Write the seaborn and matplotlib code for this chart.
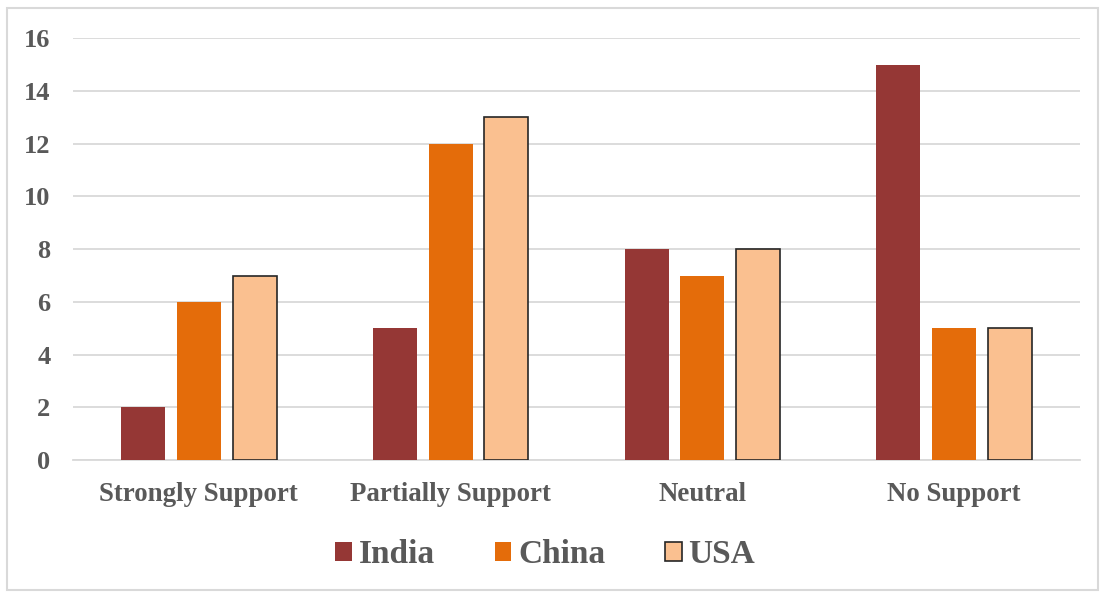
import matplotlib
matplotlib.use("Agg")
import matplotlib.pyplot as plt
import seaborn as sns
import pandas as pd
from matplotlib.patches import Patch, Rectangle

# Survey responses by country
categories = ["Strongly Support", "Partially Support", "Neutral", "No Support"]
countries = ["India", "China", "USA"]
india = [2, 5, 8, 15]
china = [6, 12, 7, 5]
usa = [7, 13, 8, 5]
y_ticks = [0, 2, 4, 6, 8, 10, 12, 14, 16]

colors = {"India": "#953735", "China": "#E46C0A", "USA": "#FAC090"}
text_color = "#595959"
grid_color = "#D9D9D9"

df = pd.DataFrame({
    "Response": categories * 3,
    "Country": ["India"] * 4 + ["China"] * 4 + ["USA"] * 4,
    "Count": india + china + usa,
})

sns.set_style("white")
plt.rcParams["font.family"] = ["Liberation Serif", "DejaVu Serif"]
plt.rcParams["font.weight"] = "bold"

fig = plt.figure(figsize=(11.06, 5.96), dpi=100)
ax = fig.add_axes([0.066, 0.228, 0.9105, 0.708])

sns.barplot(data=df, x="Response", y="Count", hue="Country", order=categories,
            hue_order=countries, palette=colors, width=0.665, gap=0.214,
            saturation=1, ax=ax, legend=False, linewidth=0, zorder=3)

# Only the USA bars carry a dark outline
for bar in ax.containers[2]:
    bar.set_edgecolor("#262626")
    bar.set_linewidth(1.2)

ax.set_ylim(0, 16)
ax.set_xlim(-0.5, 3.5)
ax.set_yticks(y_ticks)
ax.set_yticklabels([str(t) for t in y_ticks])
ax.yaxis.grid(True, color=grid_color, linewidth=1.3, zorder=0)
ax.set_axisbelow(True)
ax.set_xlabel("")
ax.set_ylabel("")
for side in ["top", "right", "left"]:
    ax.spines[side].set_visible(False)
ax.spines["bottom"].set_color(grid_color)
ax.spines["bottom"].set_linewidth(1.3)
ax.tick_params(axis="both", length=0, colors=text_color, labelsize=19)
ax.tick_params(axis="x", labelsize=19.4, pad=16)
ax.tick_params(axis="y", pad=16.2)
for lbl in ax.get_xticklabels() + ax.get_yticklabels():
    lbl.set_fontweight("bold")

handles = [Patch(facecolor=colors[c],
                 edgecolor="#262626" if c == "USA" else colors[c],
                 linewidth=1.2 if c == "USA" else 0) for c in countries]
leg = fig.legend(handles, countries, loc="center", bbox_to_anchor=(0.493, 0.069),
                 ncol=3, frameon=False, handlelength=0.5, handleheight=0.5,
                 handletextpad=0.2, columnspacing=1.8,
                 prop={"family": "Liberation Serif", "weight": "bold", "size": 24})
for t in leg.get_texts():
    t.set_color(text_color)

# Thin frame around the whole chart
fig.patches.append(Rectangle((0.0065, 0.01), 0.986, 0.977, transform=fig.transFigure,
                             fill=False, edgecolor=grid_color, linewidth=1.5))

fig.savefig("out.png", dpi=100)
